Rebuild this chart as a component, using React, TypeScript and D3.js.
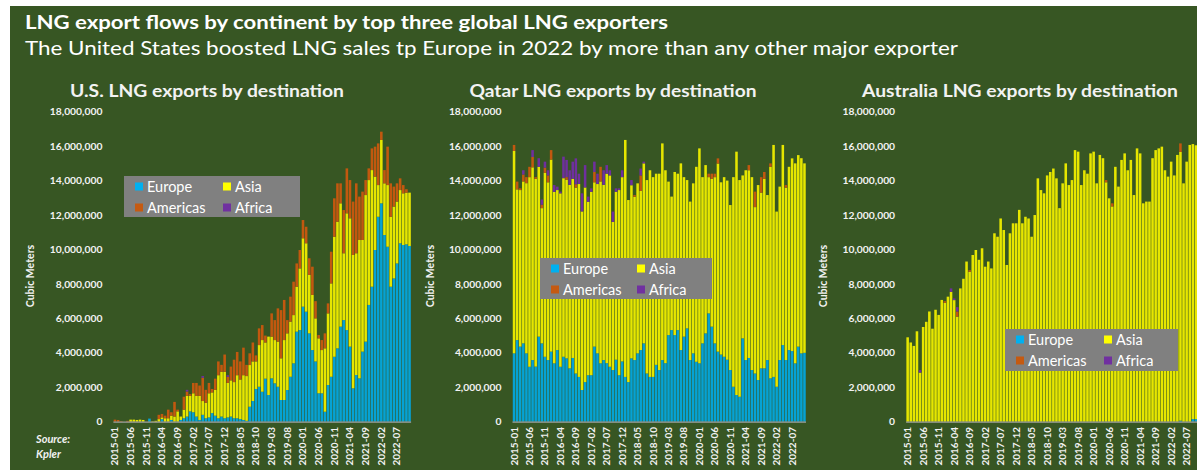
import React from "react";
import * as d3 from "d3";

// ---------- categories ----------
const MONTHS: string[] = d3.range(95).map(
  (i) => `${2015 + Math.floor(i / 12)}-${String((i % 12) + 1).padStart(2, "0")}`
);
const KEYS = ["Europe", "Asia", "Americas", "Africa"];
const Y_TICKS = [0, 2, 4, 6, 8, 10, 12, 14, 16, 18]; // millions of cubic meters

// ---------- U.S. (million m3) ----------
const US_EUROPE = [0,0,0,0,0, 0,0,0,0,0, 0,0.18,0,0,0, 0.15,0,0,0.1,0, 0,0.1,0.2,0.3,0.6, 0.55,0.3,0.1,0.4,0.2, 0.25,0.5,0.35,0.2,0.3, 0.2,0.25,0.3,0.2,0.2, 0.15,0.1,0.05,0.87,1.2, 1.9,2.03,1.74,2.5,1.55, 2.52,2.23,2.03,1.26,1.26, 1.84,2.61,3.39,5.23,5.32, 6.68,6.39,5.13,4.16,3.5, 1.65,1.65,0.58,2.13,2.61, 3.77,4.26,5.52,5.9,5.32, 4.36,1.94,2.71,2.52,4.07, 4.65,6.78,7.84,9.97,11.9, 12.68,10.84,10.16,7.84,8.32, 9.19,10.36,10.26,10.3,10.2];
const US_ASIA = [0,0,0,0,0, 0.12,0.12,0.1,0.12,0.1, 0,0,0.02,0.05,0.15, 0.1,0.2,0.2,0.25,0.3, 0.6,0.2,0.5,1.2,0.9, 1.1,1.2,1.4,0.8,0.9, 1.4,1.2,1.5,2.5,2.6, 2.7,2.0,2.1,2.1,2.5, 2.3,2.6,2.6,2.42,2.3, 1.6,2.42,3.0,2.1,3.39, 2.42,2.51,2.62,2.42,3.48, 3.29,3.2,2.8,2.61,3.58, 3.97,3.97,3.39,3.2,2.5, 3.19,2.51,3.68,4.16,5.42, 6.97,7.35,7.16,3.88,6.78, 7.45,7.74,7.07,8.03,6.48, 8.51,7.25,6.77,4.26,1.84, 3.68,3.0,3.58,4.06,4.17, 3.59,3.09,3.0,3.0,3.1];
const US_AMERICAS = [0.12,0.1,0.03,0,0.05, 0,0,0,0,0, 0,0,0,0,0.25, 0.2,0.15,0.5,0.2,0.85, 0.1,0,0.75,0.25,0.1, 0.6,0.75,0.6,1.35,0.75, 0.6,0.2,0.65,0.8,0.4, 1.0,0.35,0.8,1.3,1.35, 1.05,1.6,0.65,0.68,1.1, 0.35,0.97,0.87,0.4,0, 1.35,1.16,1.93,2.8,2.33, 0.77,1.45,1.94,1.35,1.07, 1.06,0.96,0.97,1.64,1.0, 0.19,0.58,0.87,0.58,1.84, 2.23,2.23,1.16,2.51,2.61, 2.22,3.1,4.06,2.52,2.81, 0.87,0.68,1.26,1.74,2.42, 0.48,0.77,2.23,1.94,1.16, 1.06,0.68,0.48,0.2,0];
const US_AFRICA = [0,0,0,0,0, 0,0,0,0,0, 0,0,0,0,0, 0,0,0,0,0, 0,0,0,0.1,0, 0,0,0,0.1,0, 0,0,0,0,0, 0,0.1,0,0,0, 0,0,0,0,0, 0,0,0,0,0, 0,0,0,0,0, 0,0,0,0,0, 0,0,0,0,0, 0,0,0,0,0, 0,0,0,0,0, 0,0,0,0,0, 0,0,0,0,0, 0,0,0,0,0, 0,0,0,0,0];

// ---------- Qatar ----------
const QA_EUROPE = [3.97,4.74,4.36,4.55,3.97, 3.19,3.58,3.2,4.94,4.55, 3.77,3.58,4.07,3.39,4.16, 3.19,3.77,3.68,3.1,3.7, 2.8,2.6,1.84,2.3,2.7, 2.7,4.36,3.97,3.39,3.58, 3.4,3.19,3.0,3.6,2.7, 3.5,2.6,2.3,3.68,3.58, 3.97,4.16,4.55,2.8,2.6, 2.6,3.3,3.0,3.58,3.4, 5.03,5.32,5.03,5.32,4.16, 4.94,5.42,3.58,3.97,3.48, 3.39,4.55,5.13,6.29,5.52, 4.55,4.07,3.9,3.77,3.6, 3.0,2.03,1.55,1.45,4.84, 3.58,3.7,3.0,2.8,2.42, 3.1,3.1,3.58,2.52,2.6, 2.03,3.58,4.45,3.58,4.16, 4.1,3.39,4.36,3.97,4.0];
const QA_ASIA = [11.75,8.75,9.09,9.4,9.88, 11.01,11.19,10.9,9.86,7.85, 10.68,10.32,11.15,9.95,9.29, 10.07,10.37,10.37,10.65,10.4, 10.79,11.2,10.37,11.3,10.07, 10.65,9.54,9.83,10.56,10.17, 11.0,11.11,8.6,9.75,10.75, 10.7,13.76,10.57,10.05,9.48, 9.87,9.24,10.45,11.23,12.0, 11.6,11.1,11.4,12.58,11.2, 8.91,7.75,9.47,9.08,10.84, 9.26,8.61,9.2,9.87,11.32, 12.48,9.65,9.77,7.91,8.58, 9.65,10.92,10.0,10.43,10.4, 9.58,12.17,14.13,12.58,9.46, 11.02,10.9,11.2,9.66,11.32, 10.2,11.0,9.58,12.28,13.47, 10.17,10.07,11.62,10.01,10.64, 11.19,11.61,11.12,11.33,11.0];
const QA_AMERICAS = [0.35,0.45,0.1,0.4,0.35, 0.6,0.6,0.1,0,0.2, 0.3,0.4,0.55,0,0, 0,0,0.15,0,0, 0.2,0,0,0,0, 0,0.6,0,0.85,0, 0,0,0,0,0, 0,0,0,0,0.1, 0,0.9,0,0,0, 0,0,0,0,0, 0,0,0,0,0, 0,0,0,0,0, 0,0,0,0.2,0.3, 0.2,0.3,0,0,0, 0,0,0,0,0, 0,0.3,0,0.9,0, 0.9,0.4,0,0.2,0, 0,0,0,0.15,0, 0,0,0,0,0];
const QA_AFRICA = [0,0,0,0.25,0, 0,0.4,0,0.5,0.3, 0.35,0.3,0,0.4,0.2, 0.1,1.25,1.0,0.85,1.0, 1.5,0.6,1.05,1.3,0.3, 0.2,0.6,0.6,0,0.85, 0.5,0.3,0.6,0.2,0.1, 0.4,0,0,0.3,0, 0,0.4,0.1,0,0, 0,0,0,0,0, 0,0,0,0,0, 0,0,0,0,0, 0,0,0,0,0, 0,0,0,0,0, 0,0,0,0,0, 0,0,0,0,0, 0,0,0,0,0, 0,0,0,0,0, 0,0,0,0,0];

// ---------- Australia ----------
const AU_EUROPE = [0,0,0,0,0, 0,0,0,0,0, 0,0,0,0,0, 0,0,0,0,0, 0,0,0,0,0, 0,0,0,0,0, 0,0,0,0,0, 0,0,0,0,0, 0,0,0,0,0, 0,0,0,0,0, 0,0,0,0,0, 0,0,0,0,0, 0,0,0,0,0, 0,0,0,0,0, 0,0,0,0,0, 0,0,0,0,0, 0,0,0,0,0, 0,0,0,0.06,0, 0,0,0.15,0.15,0];
const AU_ASIA = [4.9,4.6,4.4,5.25,2.85, 5.5,5.8,6.4,5.4,6.5, 6.2,7.07,6.9,7.26,7.54, 7.06,6.1,7.74,8.3,9.3, 8.7,9.68,9.97,9.4,10.07, 9.0,9.3,8.9,10.94,10.74, 11.8,11.13,9.1,10.94,11.52, 11.52,12.3,11.52,11.9,11.8, 10.74,12.0,14.13,13.45,13.26, 14.3,14.5,14.7,14.13,12.4, 13.84,15.0,13.74,14.03,15.77, 15.68,13.74,14.6,14.4,15.58, 15.68,13.84,15.49,15.3,13.9, 12.97,12.5,14.8,13.65,15.2, 15.58,14.6,15.2,13.16,15.87, 15.58,12.68,12.78,12.78,15.3, 15.77,15.87,15.97,14.6,14.23, 15.1,14.3,15.49,15.6,13.84, 15.1,16.07,15.97,15.9,15.8];
const AU_AMERICAS = [0,0,0,0,0, 0,0,0,0,0, 0,0,0.1,0,0, 0,0.3,0,0,0, 0.1,0,0,0,0, 0,0,0,0,0, 0,0,0,0,0, 0,0,0,0,0, 0,0,0,0,0, 0,0,0,0,0, 0,0,0,0,0, 0,0,0,0,0, 0,0,0,0,0.13, 0,0.18,0,0,0, 0,0,0,0,0, 0,0,0,0,0, 0,0,0,0,0, 0,0,0,0.5,0, 0,0,0,0,0];
const AU_AFRICA = [0,0,0,0,0.15, 0,0,0,0,0, 0,0,0,0,0.2, 0.1,0.25,0,0,0, 0,0,0,0,0, 0,0,0,0,0, 0,0,0,0,0, 0,0,0,0,0, 0,0,0,0,0, 0,0,0,0,0, 0,0,0,0,0, 0,0,0,0,0, 0,0,0,0,0, 0,0,0,0,0, 0,0,0,0,0, 0,0,0,0,0, 0,0,0,0,0, 0,0,0,0,0, 0,0,0,0,0];

// ---------- styling ----------
const LEGEND_COLORS: Record<string, string> = {
  Europe: "#00b0f0",
  Asia: "#ffff00",
  Americas: "#c55a11",
  Africa: "#7030a0",
};
const BAR_COLORS: Record<string, string> = {
  Europe: "#06a2d4",
  Asia: "#e6e600",
  Americas: "#c2580f",
  Africa: "#6f2f9e",
};
const BG = "#375623";
const FONT = "Lato, 'Open Sans', sans-serif";
const TXT = "#f2f2f2";

type PanelCfg = {
  title: string;
  titleX: number;
  titleLen: number;
  x0: number;
  x1: number;
  axisTitleX: number;
  legend: { x: number; y: number; w: number; h: number; col: number };
  series: Record<string, number[]>;
};

const Y0 = 421.7;
const Y1 = 111.7;

function Panel({ cfg }: { cfg: PanelCfg }) {
  const x = d3.scaleBand<string>().domain(MONTHS).range([cfg.x0, cfg.x1]).paddingInner(0.18).paddingOuter(0.09);
  const y = d3.scaleLinear().domain([0, 18]).range([Y0, Y1]);
  const rows = MONTHS.map((m, i) => {
    const r: any = { month: m };
    KEYS.forEach((k) => (r[k] = cfg.series[k][i]));
    return r;
  });
  const stacked = d3.stack<any>().keys(KEYS)(rows);
  const fmt = d3.format(",");
  const { legend } = cfg;
  const items = [
    { k: "Europe", cx: 0, r: 0 },
    { k: "Asia", cx: 1, r: 0 },
    { k: "Americas", cx: 0, r: 1 },
    { k: "Africa", cx: 1, r: 1 },
  ];
  return (
    <g>
      <text x={cfg.titleX} y={97} textAnchor="middle" fill={TXT} fontFamily={FONT} fontWeight={700} fontSize={16.5}
        textLength={cfg.titleLen} lengthAdjust="spacingAndGlyphs">
        {cfg.title}
      </text>
      {Y_TICKS.map((t) => (
        <text key={t} x={cfg.x0 - 11} y={y(t)} dy="0.35em" textAnchor="end" fill={TXT} fontFamily={FONT}
          fontWeight={700} fontSize={10.3}>
          {fmt(t * 1e6)}
        </text>
      ))}
      <text transform={`translate(${cfg.axisTitleX},${276}) rotate(-90)`} textAnchor="middle" dy="0.35em"
        fill={TXT} fontFamily={FONT} fontWeight={700} fontSize={10.5}>
        Cubic Meters
      </text>
      {stacked.map((s) => (
        <g key={s.key} fill={BAR_COLORS[s.key]}>
          {s.map((d, i) =>
            d[1] - d[0] > 0 ? (
              <rect key={i} x={x(MONTHS[i])} width={x.bandwidth()} y={y(d[1])} height={y(d[0]) - y(d[1])} />
            ) : null
          )}
        </g>
      ))}
      <line x1={cfg.x0} x2={cfg.x1} y1={Y0 + 0.5} y2={Y0 + 0.5} stroke="#a0a0a0" strokeWidth={1.2} />
      {MONTHS.map((m, i) =>
        i % 5 === 0 ? (
          <text key={m} transform={`translate(${(x(m) as number) + x.bandwidth() / 2},${427}) rotate(-90)`}
            textAnchor="end" dy="0.35em" fill={TXT} fontFamily={FONT} fontWeight={700} fontSize={10}>
            {m}
          </text>
        ) : null
      )}
      <rect x={legend.x} y={legend.y} width={legend.w} height={legend.h} fill="#808080" />
      {items.map((it) => {
        const sx = legend.x + 11 + it.cx * legend.col;
        const cy = legend.y + 10.5 + it.r * 21;
        return (
          <g key={it.k}>
            <rect x={sx} y={cy - 4} width={8} height={8} fill={LEGEND_COLORS[it.k]} />
            <text x={sx + 12} y={cy} dy="0.36em" fill="#ffffff" fontFamily={FONT} fontSize={14.5}>
              {it.k}
            </text>
          </g>
        );
      })}
    </g>
  );
}

const PANELS: PanelCfg[] = [
  {
    title: "U.S. LNG exports by destination",
    titleX: 207,
    titleLen: 274,
    x0: 113.4,
    x1: 411.1,
    axisTitleX: 30,
    legend: { x: 124, y: 176, w: 176, h: 41, col: 88 },
    series: { Europe: US_EUROPE, Asia: US_ASIA, Americas: US_AMERICAS, Africa: US_AFRICA },
  },
  {
    title: "Qatar LNG exports by destination",
    titleX: 613,
    titleLen: 287,
    x0: 512.5,
    x1: 806,
    axisTitleX: 430,
    legend: { x: 540, y: 258, w: 172, h: 41, col: 86 },
    series: { Europe: QA_EUROPE, Asia: QA_ASIA, Americas: QA_AMERICAS, Africa: QA_AFRICA },
  },
  {
    title: "Australia LNG exports by destination",
    titleX: 1020,
    titleLen: 316,
    x0: 906.1,
    x1: 1200.6,
    axisTitleX: 823,
    legend: { x: 1005, y: 329, w: 173, h: 42, col: 88 },
    series: { Europe: AU_EUROPE, Asia: AU_ASIA, Americas: AU_AMERICAS, Africa: AU_AFRICA },
  },
];

export default function App() {
  return (
    <div style={{ position: "absolute", left: 0, top: 0 }}>
      <svg width={1197} height={470} style={{ display: "block" }}>
        <rect x={0} y={0} width={1197} height={470} fill="#ffffff" />
        <rect x={10} y={6} width={1187} height={464} fill={BG} />
        <text x={25} y={29} fill="#ffffff" fontFamily={FONT} fontWeight={700} fontSize={18.5}
          textLength={643} lengthAdjust="spacingAndGlyphs">
          LNG export flows by continent by top three global LNG exporters
        </text>
        <text x={25} y={55} fill="#ffffff" fontFamily={FONT} fontSize={19}
          textLength={933} lengthAdjust="spacingAndGlyphs">
          The United States boosted LNG sales tp Europe in 2022 by more than any other major exporter
        </text>
        {PANELS.map((p) => (
          <Panel key={p.title} cfg={p} />
        ))}
        <text x={36} y={443} fill={TXT} fontFamily={FONT} fontWeight={700} fontStyle="italic" fontSize={11}>
          Source:
        </text>
        <text x={36} y={458} fill={TXT} fontFamily={FONT} fontWeight={700} fontStyle="italic" fontSize={11}>
          Kpler
        </text>
      </svg>
    </div>
  );
}
